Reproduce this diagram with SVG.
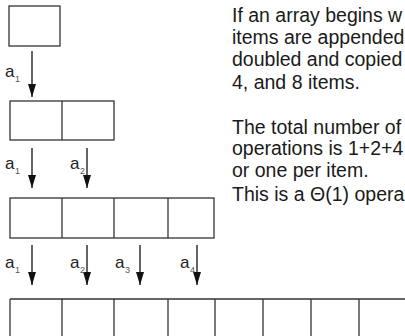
<svg xmlns="http://www.w3.org/2000/svg" width="405" height="336" viewBox="0 0 405 336">
  <style>
    .cell { fill: #ffffff; stroke: #333333; stroke-width: 1.3; }
    .div { stroke: #333333; stroke-width: 1.3; fill: none; }
    .arrow { stroke: #111111; stroke-width: 1.3; fill: none; marker-end: url(#head); }
    .lbl { font-family: "Liberation Sans", Arial, sans-serif; font-size: 17px; fill: #222222; }
    .sub { font-size: 9px; fill: #555555; }
    .note { font-family: "Liberation Sans", Arial, sans-serif; font-size: 19.5px; fill: #1a1a1a; }
  </style>
  <defs>
    <marker id="head" markerUnits="userSpaceOnUse" markerWidth="13" markerHeight="8" refX="13" refY="4" orient="auto">
      <path d="M0,0 L13,4 L0,8 z" fill="#111111"/>
    </marker>
  </defs>
  <rect width="405" height="336" fill="#ffffff"/>

  <!-- array of size 1 -->
  <g id="array1">
    <rect class="cell" x="9" y="6" width="51" height="40"/>
  </g>

  <!-- array of size 2 -->
  <g id="array2">
    <rect class="cell" x="10" y="101" width="104" height="39"/>
    <line class="div" x1="62" y1="101" x2="62" y2="140"/>
  </g>

  <!-- array of size 4 -->
  <g id="array4">
    <rect class="cell" x="10" y="198" width="204" height="40"/>
    <line class="div" x1="62" y1="198" x2="62" y2="238"/>
    <line class="div" x1="114" y1="198" x2="114" y2="238"/>
    <line class="div" x1="168" y1="198" x2="168" y2="238"/>
  </g>

  <!-- array of size 8 (runs past the bottom/right edge) -->
  <g id="array8">
    <line class="div" x1="10" y1="299" x2="410" y2="299"/>
    <line class="div" x1="10" y1="299" x2="10" y2="340"/>
    <line class="div" x1="62" y1="299" x2="62" y2="340"/>
    <line class="div" x1="114" y1="299" x2="114" y2="340"/>
    <line class="div" x1="168" y1="299" x2="168" y2="340"/>
    <line class="div" x1="215" y1="299" x2="215" y2="340"/>
    <line class="div" x1="263" y1="299" x2="263" y2="340"/>
    <line class="div" x1="311" y1="299" x2="311" y2="340"/>
    <line class="div" x1="359" y1="299" x2="359" y2="340"/>
  </g>

  <!-- copy arrows -->
  <g id="connectors">
    <line class="arrow" x1="32" y1="51" x2="32" y2="97"/>
    <line class="arrow" x1="32" y1="148" x2="32" y2="188"/>
    <line class="arrow" x1="87" y1="148" x2="87" y2="188"/>
    <line class="arrow" x1="32" y1="245" x2="32" y2="285"/>
    <line class="arrow" x1="87" y1="245" x2="87" y2="285"/>
    <line class="arrow" x1="140" y1="245" x2="140" y2="285"/>
    <line class="arrow" x1="197" y1="245" x2="197" y2="285"/>
  </g>

  <!-- element labels -->
  <g id="labels">
    <text class="lbl" x="5" y="77">a<tspan class="sub" dx="0.5" dy="5">1</tspan></text>
    <text class="lbl" x="5" y="169">a<tspan class="sub" dx="0.5" dy="5">1</tspan></text>
    <text class="lbl" x="70" y="169">a<tspan class="sub" dx="0.5" dy="5">2</tspan></text>
    <text class="lbl" x="5" y="268">a<tspan class="sub" dx="0.5" dy="5">1</tspan></text>
    <text class="lbl" x="70" y="268">a<tspan class="sub" dx="0.5" dy="5">2</tspan></text>
    <text class="lbl" x="115" y="268">a<tspan class="sub" dx="0.5" dy="5">3</tspan></text>
    <text class="lbl" x="180" y="268">a<tspan class="sub" dx="0.5" dy="5">4</tspan></text>
  </g>

  <!-- explanatory notes -->
  <g id="notes">
    <text class="note" x="232" y="22">If an array begins w</text>
    <text class="note" x="232" y="44">items are appended</text>
    <text class="note" x="232" y="66">doubled and copied</text>
    <text class="note" x="232" y="89">4, and 8 items.</text>
    <text class="note" x="232" y="134">The total number of</text>
    <text class="note" x="232" y="155">operations is 1+2+4</text>
    <text class="note" x="232" y="177">or one per item.</text>
    <text class="note" x="232" y="201">This is a Θ(1) opera</text>
  </g>
</svg>
